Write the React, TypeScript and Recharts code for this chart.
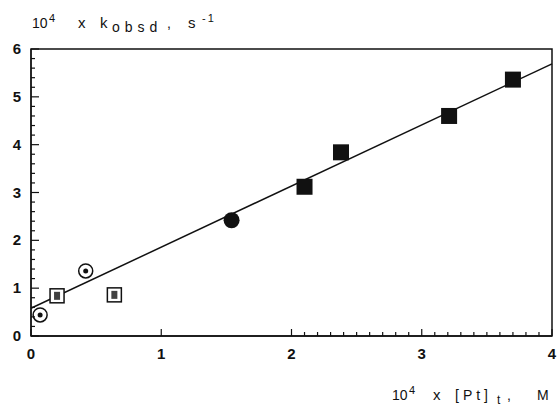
import React from "react";
import {
  ComposedChart, Scatter, XAxis, YAxis, ReferenceLine, ReferenceArea,
} from "recharts";

// values
const openCircleX = [0.07, 0.42];
const openCircleY = [0.44, 1.36];
const openSquareX = [0.2, 0.64];
const openSquareY = [0.84, 0.86];
const filledCircleX = [1.54];
const filledCircleY = [2.42];
const filledSquareX = [2.1, 2.38, 3.21, 3.7];
const filledSquareY = [3.12, 3.84, 4.6, 5.36];

// least-squares line endpoints
const fitX = [0, 4];
const fitY = [0.58, 5.69];

const xMajorTicks = [0, 1, 2, 3, 4];
const xMinorTicks = [2.1, 2.2, 2.3, 2.4, 2.5, 2.6, 2.7, 2.8, 2.9, 3.1, 3.2, 3.3, 3.4, 3.5, 3.6, 3.7, 3.8, 3.9];
const yMajorTicks = [0, 1, 2, 3, 4, 5, 6];
const yMinorTicks = [
  0.2, 0.4, 0.6, 0.8, 1.2, 1.4, 1.6, 1.8, 2.2, 2.4, 2.6, 2.8, 3.2, 3.4, 3.6, 3.8,
  4.2, 4.4, 4.6, 4.8, 5.2, 5.4, 5.6, 5.8,
];

const toPoints = (xs: number[], ys: number[]) => xs.map((x, i) => ({ x, y: ys[i] }));

const W = 559;
const H = 410;
const TOP = 49;
const LEFT = 31;
const RIGHT_MARGIN = 7;
const BOTTOM = 336;
const INK = "#111";
const FONT = "'Liberation Sans', Arial, sans-serif";

const XTick = (props: any) => {
  const { x, payload } = props;
  const major = xMajorTicks.includes(payload.value);
  return (
    <g>
      <line x1={x} x2={x} y1={BOTTOM} y2={BOTTOM - (major ? 7 : 4)} stroke={INK} strokeWidth={1.2} />
      {major && (
        <text x={x} y={359} textAnchor="middle" fontSize={15} fontWeight="bold" fontFamily={FONT} fill={INK}>
          {payload.value}
        </text>
      )}
    </g>
  );
};

const YTick = (props: any) => {
  const { y, payload } = props;
  const major = yMajorTicks.includes(payload.value);
  return (
    <g>
      <line x1={LEFT} x2={LEFT + (major ? 8 : 4)} y1={y} y2={y} stroke={INK} strokeWidth={1.2} />
      {major && (
        <text x={21} y={y + 5} textAnchor="end" fontSize={15} fontWeight="bold" fontFamily={FONT} fill={INK}>
          {payload.value}
        </text>
      )}
    </g>
  );
};

const FilledSquare = (p: any) => (
  <rect x={p.cx - 8} y={p.cy - 8} width={16} height={16} fill={INK} />
);
const FilledCircle = (p: any) => <circle cx={p.cx} cy={p.cy} r={8} fill={INK} />;
const OpenSquare = (p: any) => (
  <g>
    <rect x={p.cx - 7} y={p.cy - 7} width={14} height={14} fill="#fff" stroke={INK} strokeWidth={1.5} />
    <rect x={p.cx - 3} y={p.cy - 4} width={6} height={8} fill={INK} opacity={0.8} />
  </g>
);
const OpenCircle = (p: any) => (
  <g>
    <circle cx={p.cx} cy={p.cy} r={7} fill="#fff" stroke={INK} strokeWidth={1.5} />
    <circle cx={p.cx} cy={p.cy} r={2.5} fill={INK} />
  </g>
);

export default function App() {
  const [x0, x1] = fitX;
  const [y0, y1] = fitY;
  return (
    <div style={{ position: "absolute", left: 0, top: 0, width: W, height: H, background: "#fff" }}>
      <ComposedChart width={W} height={H} margin={{ top: TOP, right: RIGHT_MARGIN, bottom: 0, left: 0 }}>
        <XAxis
          dataKey="x"
          type="number"
          domain={[0, 4]}
          ticks={[...xMajorTicks, ...xMinorTicks]}
          interval={0}
          height={H - BOTTOM}
          axisLine={{ stroke: INK, strokeWidth: 1.5 }}
          tickLine={false}
          tick={<XTick />}
        />
        <YAxis
          dataKey="y"
          type="number"
          domain={[0, 6]}
          ticks={[...yMajorTicks, ...yMinorTicks]}
          interval={0}
          width={LEFT}
          axisLine={{ stroke: INK, strokeWidth: 1.2 }}
          tickLine={false}
          tick={<YTick />}
        />
        <ReferenceArea x1={0} x2={4} y1={0} y2={6} fill="none" stroke={INK} strokeWidth={1.5} fillOpacity={0} />
        <ReferenceLine
          segment={[{ x: x0, y: y0 }, { x: x1, y: y1 }]}
          stroke={INK}
          strokeWidth={1.5}
        />
        <Scatter data={toPoints(openCircleX, openCircleY)} shape={<OpenCircle />} isAnimationActive={false} />
        <Scatter data={toPoints(openSquareX, openSquareY)} shape={<OpenSquare />} isAnimationActive={false} />
        <Scatter data={toPoints(filledCircleX, filledCircleY)} shape={<FilledCircle />} isAnimationActive={false} />
        <Scatter data={toPoints(filledSquareX, filledSquareY)} shape={<FilledSquare />} isAnimationActive={false} />
      </ComposedChart>
      <svg
        width={W}
        height={H}
        style={{ position: "absolute", left: 0, top: 0, pointerEvents: "none" }}
        fontFamily={FONT}
        fill={INK}
      >
        <text y={28} fontSize={14}>
          <tspan x={32}>10</tspan>
          <tspan x={49} dy={-6} fontSize={11}>4</tspan>
          <tspan x={78} dy={6} fontSize={15}>x</tspan>
          <tspan x={100} fontSize={15}>k</tspan>
          <tspan x={112} dy={4} letterSpacing={5}>obsd</tspan>
          <tspan x={167} dy={-4}>,</tspan>
          <tspan x={188} fontSize={15}>s</tspan>
          <tspan x={202} dy={-6} fontSize={11} letterSpacing={2}>-1</tspan>
        </text>
        <text y={400} fontSize={14}>
          <tspan x={392}>10</tspan>
          <tspan x={409} dy={-6} fontSize={11}>4</tspan>
          <tspan x={433} dy={6} fontSize={15}>x</tspan>
          <tspan x={455} letterSpacing={4}>[Pt]</tspan>
          <tspan x={497} dy={4} fontSize={12}>t</tspan>
          <tspan x={507} dy={-4}>,</tspan>
          <tspan x={537}>M</tspan>
        </text>
      </svg>
    </div>
  );
}
